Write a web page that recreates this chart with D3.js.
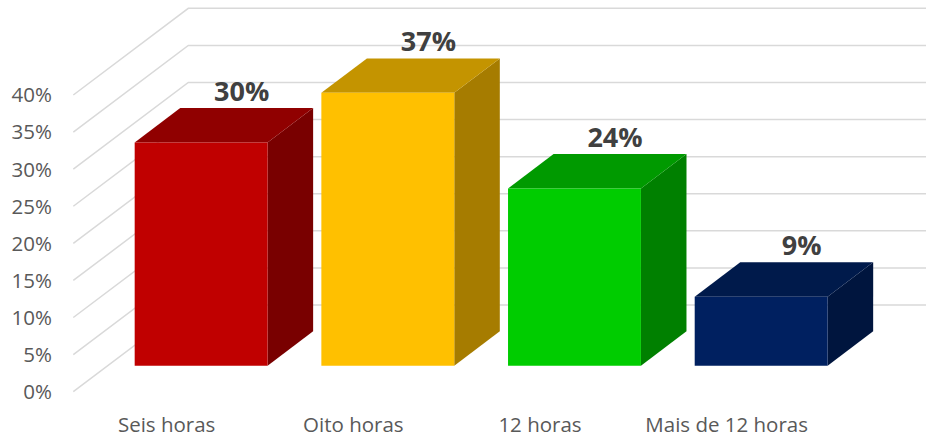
<!DOCTYPE html>
<html>
<head>
<meta charset="utf-8">
<script src="https://cdn.jsdelivr.net/npm/d3@7"></script>
<style>
  html, body { margin: 0; padding: 0; background: #ffffff; }
  svg { display: block; }
</style>
</head>
<body>
<div id="chart"></div>
<script>
// ---- data ----
const categories = ["Seis horas", "Oito horas", "12 horas", "Mais de 12 horas"];
const values = [0.301, 0.368, 0.239, 0.093];
const tickValues = [0, 0.05, 0.10, 0.15, 0.20, 0.25, 0.30, 0.35, 0.40];
const frontColors = ["#C00000", "#FFC000", "#00CC00", "#002060"];
const topColors = ["#900000", "#C49400", "#009A00", "#001A4B"];
const sideColors = ["#790000", "#A67C00", "#008000", "#00153E"];

// ---- layout ----
const W = 926, H = 438;
const floorLeft = 73.3, floorRight = 820;
const DX = 115, DY = 86.7;          // floor depth projection
const d0 = 0.3, d1 = 0.696;         // bar depth (front/back) as fraction of floor depth

const svg = d3.select("#chart").append("svg")
  .attr("width", W).attr("height", H);

const x = d3.scaleBand().domain(categories)
  .range([floorLeft, floorRight])
  .paddingInner(0.288).paddingOuter(0.144);
const xc = d3.scaleBand().domain(categories).range([floorLeft, floorRight]);
const y = d3.scaleLinear().domain([0, 0.4]).range([391.7, 95]);

const proj = (px, v, d) => [px + d * DX, y(v) - d * DY];

// ---- gridlines (side wall diagonal + back wall horizontal) ----
const grid = svg.append("g");
tickValues.forEach(v => {
  const p0 = proj(floorLeft, v, 0);
  const p1 = proj(floorLeft, v, 1);
  const p2 = [W, p1[1]];
  grid.append("polyline")
    .attr("points", [p0, p1, p2].map(p => p.join(",")).join(" "))
    .attr("fill", "none")
    .attr("stroke", "#D9D9D9")
    .attr("stroke-width", 1.5);
});

// ---- y axis labels ----
const fmtTick = d3.format(".0%");
svg.append("g").selectAll("text").data(tickValues).join("text")
  .attr("x", 52)
  .attr("y", d => y(d))
  .attr("dy", "0.36em")
  .attr("text-anchor", "end")
  .attr("font-family", "'Open Sans', sans-serif")
  .attr("font-size", 20.5)
  .attr("fill", "#595959")
  .text(d => fmtTick(d));

// ---- bars ----
const bars = svg.append("g");
categories.forEach((c, i) => {
  const v = values[i];
  const xl = x(c), xr = x(c) + x.bandwidth();
  const poly = pts => pts.map(p => p.join(",")).join(" ");
  // side face
  bars.append("polygon")
    .attr("points", poly([proj(xr, 0, d0), proj(xr, 0, d1), proj(xr, v, d1), proj(xr, v, d0)]))
    .attr("fill", sideColors[i]);
  // top face
  bars.append("polygon")
    .attr("points", poly([proj(xl, v, d0), proj(xl, v, d1), proj(xr, v, d1), proj(xr, v, d0)]))
    .attr("fill", topColors[i]);
  // front face
  bars.append("polygon")
    .attr("points", poly([proj(xl, 0, d0), proj(xr, 0, d0), proj(xr, v, d0), proj(xl, v, d0)]))
    .attr("fill", frontColors[i]);
});

// ---- data labels ----
const fmtVal = d3.format(".0%");
svg.append("g").selectAll("text").data(categories).join("text")
  .attr("x", (c, i) => proj(x(c) + x.bandwidth() / 2, values[i], d1)[0] - 5)
  .attr("y", (c, i) => proj(0, values[i], d1)[1] - 7)
  .attr("text-anchor", "middle")
  .attr("font-family", "'Open Sans', sans-serif")
  .attr("font-weight", "bold")
  .attr("font-size", 27)
  .attr("fill", "#404040")
  .text((c, i) => fmtVal(values[i]));

// ---- category labels ----
svg.append("g").selectAll("text").data(categories).join("text")
  .attr("x", c => xc(c) + xc.bandwidth() / 2)
  .attr("y", 431.5)
  .attr("text-anchor", "middle")
  .attr("font-family", "'Open Sans', sans-serif")
  .attr("font-size", 20.5)
  .attr("fill", "#595959")
  .text(c => c);
</script>
</body>
</html>
